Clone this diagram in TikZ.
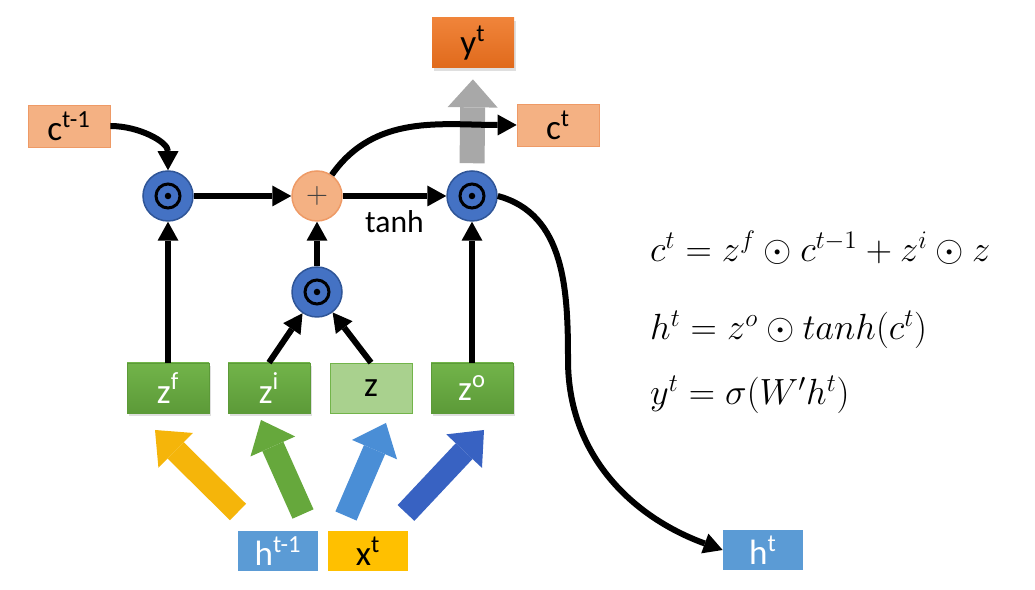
\documentclass[tikz,border=0pt]{standalone}
\usepackage{amsmath,amssymb}
\usepackage{fontspec}
\setmainfont{Carlito}
\usetikzlibrary{arrows.meta,shadows}

\definecolor{cellfill}{HTML}{F4B183}
\definecolor{celledge}{HTML}{EE9A66}
\definecolor{outtop}{HTML}{F0843A}
\definecolor{outbot}{HTML}{E06A1C}
\definecolor{gatetop}{HTML}{72B44A}
\definecolor{gatebot}{HTML}{5C9A38}
\definecolor{candfill}{HTML}{A9D18E}
\definecolor{opblue}{HTML}{4472C4}
\definecolor{opedge}{HTML}{2F5597}
\definecolor{hblue}{HTML}{5B9BD5}
\definecolor{xgold}{HTML}{FFC000}
\definecolor{fyellow}{HTML}{F5B50A}
\definecolor{fgreen}{HTML}{66A83C}
\definecolor{flblue}{HTML}{4A8ED6}
\definecolor{fdblue}{HTML}{3862C2}
\definecolor{fgray}{HTML}{A8A8A8}

\begin{document}
\begin{tikzpicture}[x=0.2mm,y=0.2mm]
      \useasboundingbox (0,0) rectangle (1035,590);
      \tikzset{B/.style = {rectangle, minimum width=16.4mm, minimum height=8.4mm, inner sep=0pt, font=\fontsize{20}{20}\selectfont}}
      \tikzset{G/.style = {B, minimum height=10mm, top color=gatetop, bottom color=gatebot, draw=gatebot, text=white, drop shadow={shadow xshift=0.3mm, shadow yshift=-0.6mm, opacity=0.25}}}
      \tikzset{O/.style = {circle, minimum size=10mm, inner sep=0pt, fill=opblue, draw=opedge, line width=0.3mm,
        path picture={\draw[black,line width=0.6mm] (path picture bounding box.center) circle (2.4mm);
                      \fill[black] (path picture bounding box.center) circle (0.65mm);}}}
      \tikzset{E/.style = {draw, line width=1.2mm, -{Triangle[length=3.8mm,width=4.2mm,line width=0pt]}}}
      \tikzset{F/.style = {line width=4.6mm, -{Triangle[length=5.8mm,width=9.8mm,line width=0pt]}}}
      \tikzset{Q/.style = {anchor=base west, font=\fontsize{21}{21}\selectfont}}
      \node[B,fill=cellfill,draw=celledge](cprev) at (69,464) {c\textsuperscript{t-1}};
      \node[B,fill=cellfill,draw=celledge](ct) at (558,465) {c\textsuperscript{t}};
      \node[B,minimum height=10mm,top color=outtop,bottom color=outbot,drop shadow={shadow xshift=0.3mm, shadow yshift=-0.6mm, opacity=0.25}](yt) at (473,547) {y\textsuperscript{t}};
      \node[O](fmul) at (168,394) {};
      \node[O](omul) at (472,394) {};
      \node[O](imul) at (317,298) {};
      \node[circle,minimum size=10mm,inner sep=0pt,fill=cellfill,draw=celledge,line width=0.3mm,text=black!75,font=\fontsize{16}{16}\selectfont](plus) at (317,394) {$+$};
      \node[G](zf) at (168,202) {z\textsuperscript{f}};
      \node[G](zi) at (269,202) {z\textsuperscript{i}};
      \node[B,minimum height=10mm,fill=candfill,draw=gatetop](zz) at (371,202) {z};
      \node[G](zo) at (472,202) {z\textsuperscript{o}};
      \node[B,minimum width=16mm,minimum height=8mm,fill=hblue,text=white](hprev) at (278,39) {h\textsuperscript{t-1}};
      \node[B,minimum width=16mm,minimum height=8mm,fill=xgold](xt) at (368,39) {x\textsuperscript{t}};
      \node[B,minimum width=16mm,minimum height=8mm,fill=hblue,text=white](ht) at (763,40) {h\textsuperscript{t}};
      \node[Q](eqc) at (644,328) {$c^t = z^f\odot c^{t-1}+z^i\odot z$};
      \node[Q](eqh) at (644,250) {$h^t = z^o\odot tanh(c^t)$};
      \node[Q](eqy) at (644,185) {$y^t = \sigma(W'h^t)$};
      \coordinate (fy0) at (238,78);  \coordinate (fy1) at (155,160);
      \coordinate (fg0) at (303,76);  \coordinate (fg1) at (261,170);
      \coordinate (fl0) at (346,74);  \coordinate (fl1) at (386,167);
      \coordinate (fd0) at (406,77);  \coordinate (fd1) at (484,160);
      \coordinate (hturn) at (568,230);
      \draw[F,draw=fyellow](fy0) -- (fy1);
      \draw[F,draw=fgreen](fg0) -- (fg1);
      \draw[F,draw=flblue](fl0) -- (fl1);
      \draw[F,draw=fdblue](fd0) -- (fd1);
      \draw[line width=5mm,draw=fgray,-{Triangle[length=5.6mm,width=10mm,line width=0pt]},shorten <=1.4mm,shorten >=2.2mm](omul.north) -- (yt.south);
      \draw[E](cprev.east) to[out=0,in=90] (fmul.north);
      \draw[E](fmul) -- (plus);
      \draw[E](plus) -- node[below=1.2mm,font=\fontsize{18}{18}\selectfont](tanh){tanh} (omul);
      \draw[E](imul) -- (plus);
      \draw[E](zf) -- (fmul);
      \draw[E](zo) -- (omul);
      \draw[E](zi.north) -- (imul);
      \draw[E](zz.north) -- (imul);
      \draw[E](plus.55) to[out=55,in=180] (ct.west);
      \draw[E](omul.east) to[out=-15,in=90] (hturn) to[out=-90,in=160] (ht.west);
\end{tikzpicture}
\end{document}
